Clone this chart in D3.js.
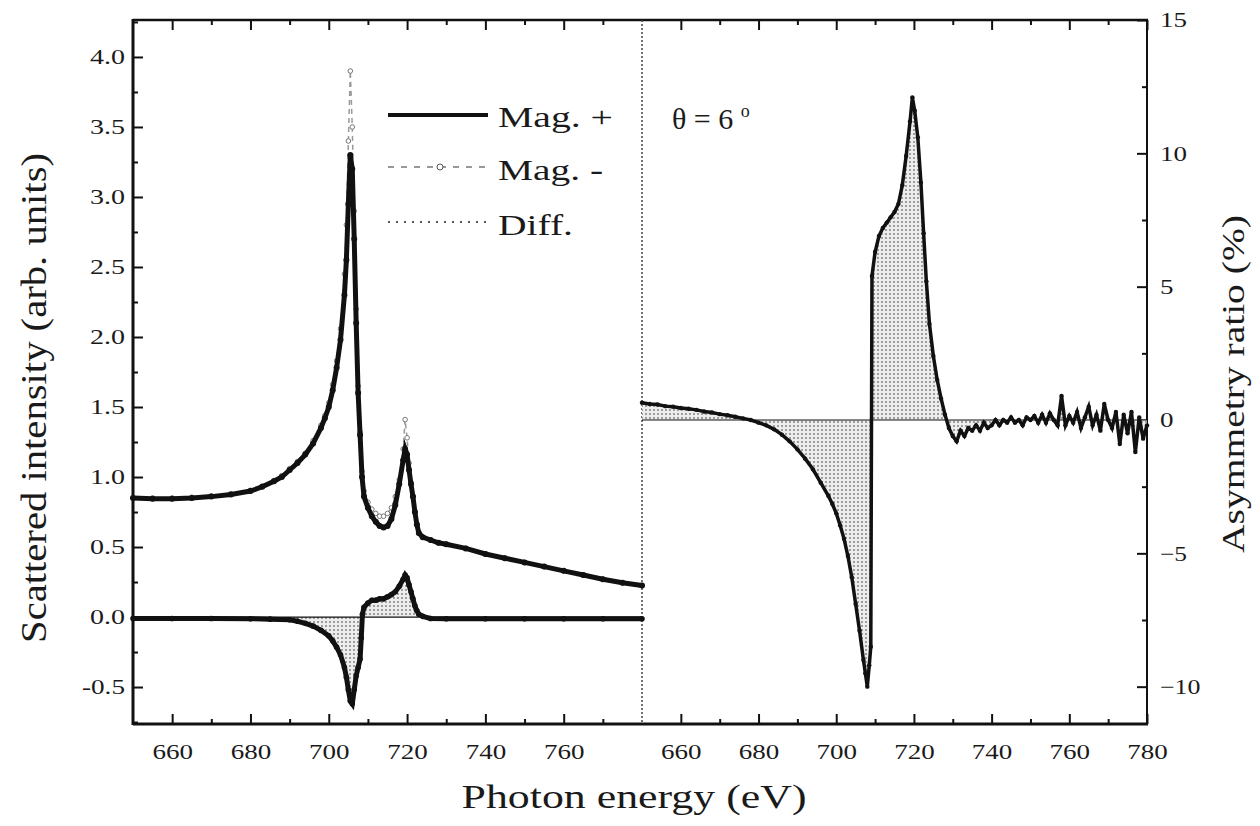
<!DOCTYPE html>
<html>
<head>
<meta charset="utf-8">
<script src="https://cdnjs.cloudflare.com/ajax/libs/d3/7.8.5/d3.min.js"></script>
<style>
body { margin: 0; background: #fff; }
svg text { font-family: "Liberation Serif", "Times New Roman", serif; fill: #1a1a1a; }
</style>
</head>
<body>
<svg id="chart" width="1260" height="826"></svg>
<script>
// left panel: scattered intensity
var magEnergy = [650,655,660,665,670,675,680,683,686,688,690,692,694,696,698,699,700,701,702,703,704,
  704.5,705,705.5,706,706.5,707,707.5,708,708.5,709,710,711,712,713,714,715,716,717,718,719,
  719.5,720,720.5,721,721.5,722,722.5,723,724,726,728,730,735,740,745,750,755,760,765,770,775,780]
var magPlus = [0.85,0.845,0.845,0.85,0.86,0.875,0.90,0.93,0.97,1.00,1.05,1.10,1.16,1.24,1.35,1.42,1.50,1.62,1.78,1.98,2.30,
  2.55,2.95,3.30,3.20,2.70,2.10,1.60,1.30,1.00,0.86,0.78,0.72,0.68,0.65,0.64,0.65,0.70,0.80,0.95,1.12,
  1.20,1.16,1.05,0.95,0.86,0.75,0.66,0.60,0.57,0.55,0.53,0.52,0.49,0.45,0.42,0.39,0.36,0.33,0.30,0.27,0.245,0.225]
var magMinus = [0.85,0.85,0.85,0.855,0.865,0.88,0.905,0.935,0.975,1.01,1.06,1.11,1.17,1.26,1.37,1.44,1.53,1.66,1.83,2.06,2.45,
  2.80,3.40,3.90,3.50,2.90,2.20,1.65,1.32,1.04,0.90,0.82,0.77,0.74,0.72,0.72,0.74,0.78,0.86,0.98,1.20,
  1.41,1.28,1.10,0.96,0.86,0.75,0.66,0.60,0.57,0.55,0.53,0.52,0.49,0.45,0.42,0.39,0.36,0.33,0.30,0.27,0.245,0.225]

var diffEnergy = [650,660,670,680,685,690,692,694,696,698,700,701,702,703,704,704.5,705,705.5,706,706.5,707,707.5,708,708.3,708.6,
  709,710,711,712,713,714,715,716,717,718,719,719.5,720,720.5,721,721.5,722,722.5,723,724,726,730,740,750,760,770,780]
var diffValues = [-0.01,-0.01,-0.01,-0.012,-0.015,-0.02,-0.03,-0.045,-0.065,-0.095,-0.135,-0.17,-0.215,-0.27,-0.36,-0.43,-0.52,-0.60,-0.62,-0.52,-0.42,-0.36,-0.30,-0.15,0.02,
  0.07,0.10,0.12,0.12,0.13,0.13,0.145,0.16,0.18,0.22,0.27,0.30,0.28,0.23,0.18,0.13,0.08,0.045,0.02,0.005,-0.01,-0.012,-0.012,-0.012,-0.012,-0.012,-0.012]

// right panel: asymmetry ratio (%)
var asymEnergy = [650,652,654,656,658,660,662,664,666,668,670,672,674,676,678,680,682,684,686,688,690,692,694,696,698,699,700,
  701,702,703,704,705,706,707,707.5,708,708.5,708.9,709.2,710,711,712,713,714,715,716,717,718,719,719.6,720.2,721,721.8,722.5,
  723.2,724,725,726,727,728,729,730,731,732,733,734,735,736,737,738,739,740,741,742,743,744,745,746,747,748,749,750,
  751,752,753,754,755,756,757,758,759,760,761,762,763,764,765,766,767,768,769,770,771,772,773,774,775,776,777,778,779,780]
var asymValues = [0.65,0.6,0.58,0.52,0.5,0.45,0.42,0.38,0.32,0.28,0.22,0.18,0.12,0.06,0.0,-0.1,-0.2,-0.35,-0.55,-0.8,-1.1,-1.45,-1.85,-2.35,-2.85,-3.15,-3.5,
  -3.95,-4.45,-5.1,-5.9,-6.9,-7.9,-9.0,-9.5,-10.0,-9.2,-8.5,5.4,6.3,6.9,7.2,7.4,7.6,7.8,8.1,8.8,9.9,11.2,12.1,11.6,10.6,8.9,7.0,
  5.2,3.6,2.4,1.5,0.8,0.2,-0.3,-0.6,-0.8,-0.4,-0.6,-0.3,-0.4,-0.2,-0.4,-0.1,-0.3,-0.2,0.0,-0.2,0.0,-0.1,0.1,-0.1,0.0,-0.2,0.1,0.0,
  0.15,-0.1,0.2,-0.1,0.25,0.0,-0.2,0.9,-0.2,0.15,-0.1,0.3,-0.3,0.1,0.5,-0.2,0.2,-0.4,0.6,0.0,-0.3,0.3,-0.9,0.2,-0.5,0.3,-1.2,0.1,-0.7,-0.2]

var leftYTicks = [-0.5,0,0.5,1.0,1.5,2.0,2.5,3.0,3.5,4.0]
var leftYMinor = [-0.75,-0.25,0.25,0.75,1.25,1.75,2.25,2.75,3.25,3.75,4.25]
var rightYTicks = [-10,-5,0,5,10,15]
var rightYMinor = [-7.5,-2.5,2.5,7.5,12.5]
var leftXTicks = [660,680,700,720,740,760]
var rightXTicks = [660,680,700,720,740,760,780]
var xMinor = [670,690,710,730,750,770]

var svg = d3.select('#chart')
var defs = svg.append('defs')
var pat = defs.append('pattern')
  .attr('id', 'dots')
  .attr('width', 4)
  .attr('height', 4)
  .attr('patternUnits', 'userSpaceOnUse')
pat.append('rect').attr('width', 4).attr('height', 4).attr('fill', '#ededed')
pat.append('circle').attr('cx', 2).attr('cy', 2).attr('r', 0.9).attr('fill', '#777')

var xL = d3.scaleLinear().domain([650, 780]).range([133, 642])
var xR = d3.scaleLinear().domain([650, 780]).range([642, 1147])
var yL = d3.scaleLinear().domain([-0.764, 4.264]).range([724, 20])
var yR = d3.scaleLinear().domain([-11.4, 15]).range([724, 20])

// tick labels of the scan look horizontally stretched
function labelLen(s) {
  var w = 0
  for (var i = 0; i < s.length; i++) {
    w += (s[i] === '.' || s[i] === '-') ? 8 : 13.5
  }
  return w
}
function styleAxis(g) {
  g.select('.domain').remove()
  g.selectAll('.tick line').attr('stroke', '#111').attr('stroke-width', 2)
  g.selectAll('.tick text')
    .attr('font-size', 21)
    .attr('font-family', '"Liberation Serif", serif')
    .attr('fill', '#222')
    .attr('textLength', function() { return labelLen(this.textContent) })
    .attr('lengthAdjust', 'spacingAndGlyphs')
}

var fmt1 = function(d) { return d.toFixed(1) }

svg.append('g').attr('transform', 'translate(133,0)')
  .call(d3.axisLeft(yL).tickValues(leftYTicks).tickSize(-10).tickPadding(8).tickFormat(fmt1))
  .call(styleAxis)
svg.append('g').attr('transform', 'translate(133,0)')
  .call(d3.axisLeft(yL).tickValues(leftYMinor.filter(function(v) { return v > -0.76 && v < 4.26 })).tickSize(-5).tickFormat(''))
  .call(styleAxis)

svg.append('g').attr('transform', 'translate(1147,0)')
  .call(d3.axisRight(yR).tickValues(rightYTicks).tickSize(-10).tickPadding(13))
  .call(styleAxis)
svg.append('g').attr('transform', 'translate(1147,0)')
  .call(d3.axisRight(yR).tickValues(rightYMinor).tickSize(-5).tickFormat(''))
  .call(styleAxis)

;[[xL, leftXTicks], [xR, rightXTicks]].forEach(function(p) {
  var x = p[0]
  svg.append('g').attr('transform', 'translate(0,724)')
    .call(d3.axisBottom(x).tickValues(p[1]).tickSize(-10).tickPadding(20))
    .call(styleAxis)
  svg.append('g').attr('transform', 'translate(0,724)')
    .call(d3.axisBottom(x).tickValues(xMinor).tickSize(-5).tickFormat(''))
    .call(styleAxis)
  svg.append('g').attr('transform', 'translate(0,20)')
    .call(d3.axisTop(x).tickValues(p[1]).tickSize(-10).tickFormat(''))
    .call(styleAxis)
  svg.append('g').attr('transform', 'translate(0,20)')
    .call(d3.axisTop(x).tickValues(xMinor).tickSize(-5).tickFormat(''))
    .call(styleAxis)
})

// frame
var frame = svg.append('g').attr('stroke', '#111').attr('fill', 'none')
frame.append('line').attr('x1', 133).attr('x2', 133).attr('y1', 19).attr('y2', 725).attr('stroke-width', 3)
frame.append('line').attr('x1', 133).attr('x2', 1148).attr('y1', 724).attr('y2', 724).attr('stroke-width', 3)
frame.append('line').attr('x1', 133).attr('x2', 1148).attr('y1', 20).attr('y2', 20).attr('stroke-width', 2.5)
frame.append('line').attr('x1', 1147).attr('x2', 1147).attr('y1', 20).attr('y2', 724).attr('stroke-width', 2)
frame.append('line').attr('x1', 642).attr('x2', 642).attr('y1', 20).attr('y2', 724)
  .attr('stroke-width', 1.5).attr('stroke-dasharray', '2,2').attr('stroke', '#444')

// left panel curves
var magData = magEnergy.map(function(e, i) { return { e: e, p: magPlus[i], m: magMinus[i] } })
var diffData = diffEnergy.map(function(e, i) { return { e: e, v: diffValues[i] } })

svg.append('path')
  .datum(diffData)
  .attr('fill', 'url(#dots)')
  .attr('d', d3.area().x(function(d) { return xL(d.e) }).y0(yL(0)).y1(function(d) { return yL(d.v) }))
svg.append('line')
  .attr('x1', xL(650)).attr('x2', xL(780))
  .attr('y1', yL(0)).attr('y2', yL(0))
  .attr('stroke', '#111').attr('stroke-width', 1.2)

svg.append('path')
  .datum(magData)
  .attr('fill', 'none')
  .attr('stroke', '#999')
  .attr('stroke-width', 1.5)
  .attr('stroke-dasharray', '5,4')
  .attr('d', d3.line().x(function(d) { return xL(d.e) }).y(function(d) { return yL(d.m) }))
svg.append('g').selectAll('circle')
  .data(magData)
  .enter()
  .append('circle')
  .attr('cx', function(d) { return xL(d.e) })
  .attr('cy', function(d) { return yL(d.m) })
  .attr('r', 2.3)
  .attr('fill', '#fff')
  .attr('stroke', '#777')
  .attr('stroke-width', 1)

svg.append('path')
  .datum(magData)
  .attr('fill', 'none')
  .attr('stroke', '#111')
  .attr('stroke-width', 5)
  .attr('d', d3.line().x(function(d) { return xL(d.e) }).y(function(d) { return yL(d.p) }))
svg.append('g').selectAll('circle')
  .data(magData)
  .enter()
  .append('circle')
  .attr('cx', function(d) { return xL(d.e) })
  .attr('cy', function(d) { return yL(d.p) })
  .attr('r', 3)
  .attr('fill', '#111')

svg.append('path')
  .datum(diffData)
  .attr('fill', 'none')
  .attr('stroke', '#111')
  .attr('stroke-width', 5)
  .attr('d', d3.line().x(function(d) { return xL(d.e) }).y(function(d) { return yL(d.v) }))
svg.append('g').selectAll('circle')
  .data(diffData)
  .enter()
  .append('circle')
  .attr('cx', function(d) { return xL(d.e) })
  .attr('cy', function(d) { return yL(d.v) })
  .attr('r', 2.8)
  .attr('fill', '#111')

// right panel curve
var asymData = asymEnergy.map(function(e, i) { return { e: e, v: asymValues[i] } })
svg.append('path')
  .datum(asymData)
  .attr('fill', 'url(#dots)')
  .attr('d', d3.area().x(function(d) { return xR(d.e) }).y0(yR(0)).y1(function(d) { return yR(d.v) }))
svg.append('line')
  .attr('x1', xR(650)).attr('x2', xR(780))
  .attr('y1', yR(0)).attr('y2', yR(0))
  .attr('stroke', '#111').attr('stroke-width', 1.2)
svg.append('path')
  .datum(asymData)
  .attr('fill', 'none')
  .attr('stroke', '#111')
  .attr('stroke-width', 3.5)
  .attr('d', d3.line().x(function(d) { return xR(d.e) }).y(function(d) { return yR(d.v) }))
svg.append('g').selectAll('circle')
  .data(asymData)
  .enter()
  .append('circle')
  .attr('cx', function(d) { return xR(d.e) })
  .attr('cy', function(d) { return yR(d.v) })
  .attr('r', 2.2)
  .attr('fill', '#111')

// legend
var legend = svg.append('g')
legend.append('line').attr('x1', 388).attr('x2', 488).attr('y1', 115).attr('y2', 115)
  .attr('stroke', '#111').attr('stroke-width', 4)
legend.append('line').attr('x1', 388).attr('x2', 488).attr('y1', 167).attr('y2', 167)
  .attr('stroke', '#777').attr('stroke-width', 1.5).attr('stroke-dasharray', '6,7')
legend.append('circle').attr('cx', 440).attr('cy', 167).attr('r', 3)
  .attr('fill', '#fff').attr('stroke', '#555')
legend.append('line').attr('x1', 388).attr('x2', 488).attr('y1', 222).attr('y2', 222)
  .attr('stroke', '#555').attr('stroke-width', 2).attr('stroke-dasharray', '2,6')
;[['Mag. +', 127, 115], ['Mag. -', 180, 105], ['Diff.', 235, 75]].forEach(function(l) {
  legend.append('text')
    .attr('x', 498)
    .attr('y', l[1])
    .attr('font-size', 30)
    .attr('textLength', l[2])
    .attr('lengthAdjust', 'spacingAndGlyphs')
    .text(l[0])
})

var theta = svg.append('text')
  .attr('x', 672)
  .attr('y', 129)
  .attr('font-size', 30)
theta.append('tspan').text('θ = 6 ')
theta.append('tspan').attr('font-size', 18).attr('dy', -12).text('o')

// axis titles
svg.append('text')
  .attr('transform', 'translate(46,398) rotate(-90)')
  .attr('text-anchor', 'middle')
  .attr('font-size', 36)
  .attr('textLength', 490)
  .attr('lengthAdjust', 'spacingAndGlyphs')
  .text('Scattered intensity (arb. units)')
svg.append('text')
  .attr('x', 634)
  .attr('y', 808)
  .attr('text-anchor', 'middle')
  .attr('font-size', 34)
  .attr('textLength', 345)
  .attr('lengthAdjust', 'spacingAndGlyphs')
  .text('Photon energy (eV)')
svg.append('text')
  .attr('transform', 'translate(1244,384) rotate(-90)')
  .attr('text-anchor', 'middle')
  .attr('font-size', 32)
  .attr('textLength', 338)
  .attr('lengthAdjust', 'spacingAndGlyphs')
  .text('Asymmetry ratio (%)')
</script>
</body>
</html>
